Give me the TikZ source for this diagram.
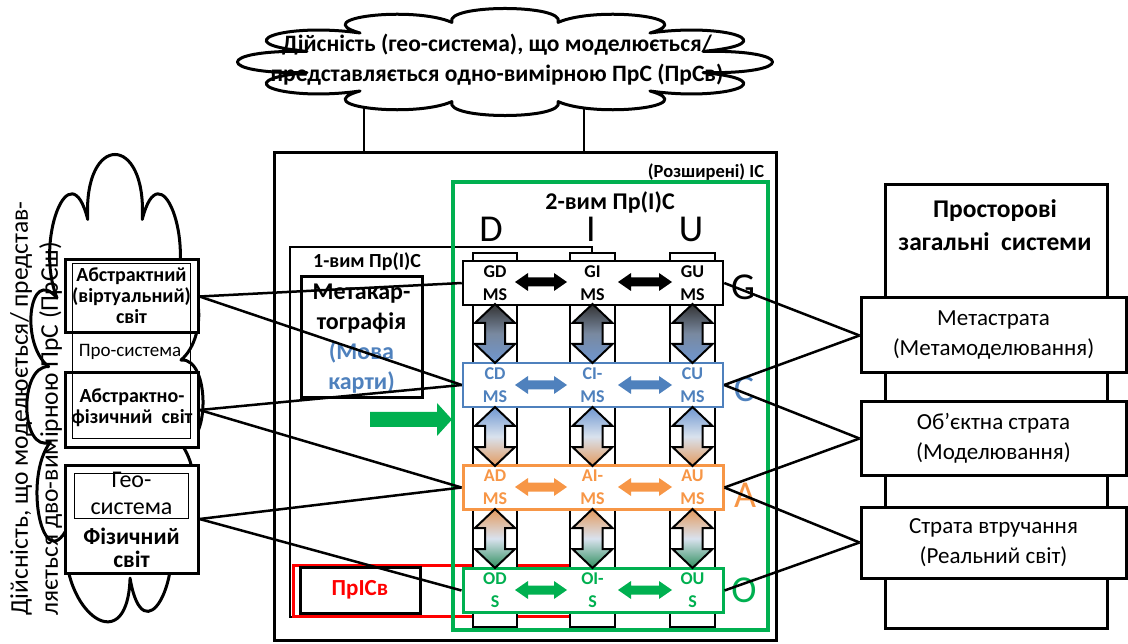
\documentclass[tikz,border=0pt]{standalone}
\usepackage{fontspec}
\setmainfont{Carlito}
\definecolor{accblue}{HTML}{4F81BD}
\definecolor{accorange}{HTML}{F79646}
\definecolor{accgreen}{HTML}{00B050}
\definecolor{accred}{HTML}{FF0000}
\definecolor{shblue}{HTML}{6F97D0}
\definecolor{shorange}{HTML}{E39A5E}
\definecolor{shgreen}{HTML}{2F8F5F}
\definecolor{shpale}{HTML}{D9E2EE}

\newcommand\fs[2]{\fontsize{#1}{#2}\selectfont}
% vertical fat double arrow: x, y top, y bottom, top/middle/bottom colours
\newcommand\vfat[6]{%
  \draw[line width=2pt, top color=#4, bottom color=#6, middle color=#5]
    (#1,#2) -- ++(20,19) -- ++(-10,0) -- (#1+10,#3-19) -- ++(10,0) -- (#1,#3)
    -- ++(-20,-19) -- ++(10,0) -- (#1-10,#2+19) -- ++(-10,0) -- cycle;}
% horizontal fat double arrow: x left, x right, y, colour
\newcommand\hfat[4]{%
  \fill[#4] (#1,#3) -- ++(13,-9) -- ++(0,4.5) -- (#2-13,#3-4.5) -- ++(0,-4.5)
    -- (#2,#3) -- ++(-13,9) -- ++(0,-4.5) -- (#1+13,#3+4.5) -- ++(0,4.5) -- cycle;}
% stretched cloud: centre x, centre y, x radius, y radius, first joint angle, joint angle pairs
\newcommand\stretchcloud[6]{%
  \begin{scope}[shift={(#1,#2)}, xscale=#3, yscale=-#4]
    \draw[cloudline] ({cos(#5)},{sin(#5)})
      foreach \a/\b in {#6}{
        .. controls ({1.45*cos(\a+0.1*(\b-\a))},{1.45*sin(\a+0.1*(\b-\a))})
           and ({1.45*cos(\b-0.1*(\b-\a))},{1.45*sin(\b-0.1*(\b-\a))})
        .. ({cos(\b)},{sin(\b)}) } -- cycle;
  \end{scope}}

\tikzset{
  cloudline/.style={draw, fill=white, line width=3pt, line join=round},
  rowbox/.style={draw, fill=white, line width=2.5pt, minimum width=260pt, minimum height=44pt, inner sep=0pt},
  lbox/.style={draw, fill=white, line width=3pt, minimum width=133pt, inner sep=0pt},
  sbox/.style={draw, fill=white, line width=3pt, minimum width=265pt, inner sep=0pt, align=center, font=\fs{23}{30}},
  conn/.style={line width=2.5pt},
  cell/.style={font=\bfseries\fs{18}{23}, align=center, inner sep=0pt},
  big/.style={font=\fs{38}{38}, inner sep=0pt, anchor=base},
  colbox/.style={draw, fill=white, line width=2.5pt},
}

\begin{document}
\begin{tikzpicture}[x=1pt, y=-1pt]
\useasboundingbox (0,0) rectangle (1128,644);

% ---- outer system frame and the cloud above it
\node[draw, line width=3pt, minimum width=502pt, minimum height=487pt, inner sep=0pt] (ic) at (525,396.5) {};
\coordinate (tl) at (364,153);
\coordinate (tr) at (584,153);
\draw[conn] (364,90) -- (tl);
\draw[conn] (584,90) -- (tr);
\stretchcloud{505}{62}{205}{41}{15}{15/45,45/75,75/105,105/135,135/165,165/195,195/225,225/255,255/285,285/315,315/345,345/375}
\node[font=\bfseries\fs{23.5}{30}, align=center, inner sep=0pt] (toptext) at (497,60)
  {Дійсність (гео-система), що моделюється/\\представляється одно-вимірною ПрС (ПрСв)};

\node[font=\bfseries\fs{18.5}{20}, inner sep=0pt] (ext) at (706,172) {(Розширені) ІС};

% ---- one-dimensional part
\draw[line width=2.5pt] (290,247) rectangle (592,617);
\node[font=\bfseries\fs{20}{22}, inner sep=0pt] (onedim) at (367,262) {1-вим Пр(І)С};
\node[draw, line width=3pt, minimum width=121pt, minimum height=121pt, inner sep=0pt] (meta) at (361.5,337.5) {};
\node[font=\bfseries\fs{24}{30}, align=center, inner sep=0pt] (metatext) at (361.5,339)
  {Метакар-\\тографія\\\textcolor{accblue}{(Мова}\\\textcolor{accblue}{карти)}};
\draw[accred, line width=3pt] (293,565) rectangle (593,616);
\node[draw, line width=3pt, minimum width=120pt, minimum height=46pt, inner sep=0pt,
      font=\bfseries\fs{23}{26}, text=accred] (pric) at (360,590) {ПрІСв};

% ---- two-dimensional part
\draw[accgreen, line width=4pt] (453,182) rectangle (768,630);
\node[font=\bfseries\fs{24}{26}, inner sep=0pt] (twodim) at (610,202) {2-вим Пр(І)С};
\fill[accgreen] (370,412) -- (437,412) -- (437,403) -- (452,419.5) -- (437,436) -- (437,427) -- (370,427) -- cycle;

\draw[colbox] (473,253) rectangle (517,627);
\draw[colbox] (570,253) rectangle (615,627);
\draw[colbox] (670,253) rectangle (715,627);

\node[big] (lD) at (491,242) {D};
\node[big] (lI) at (591,242) {I};
\node[big] (lU) at (691,242) {U};

\node[rowbox] (rowG) at (593,283) {};
\node[rowbox, draw=accblue] (rowC) at (593,385) {};
\node[rowbox, draw=accorange, line width=3pt] (rowA) at (593,487.5) {};
\node[rowbox, draw=accgreen, line width=3pt] (rowO) at (593,590.5) {};

\foreach \x in {495,592.5,692.5}{
  \vfat{\x}{304}{363}{black!80}{gray!60!shblue}{shblue}
  \vfat{\x}{407}{466}{shblue}{shpale}{shorange}
  \vfat{\x}{509}{568}{shorange}{shpale}{shgreen}
}

\foreach \y/\c in {282/black, 385/accblue, 487/accorange, 590/accgreen}{
  \hfat{515}{567}{\y}{\c}
  \hfat{618}{672}{\y}{\c}
}

\node[cell] (gd) at (495,283.5) {GD\\MS};
\node[cell] (gi) at (592.5,283.5) {GI\\MS};
\node[cell] (gu) at (692.5,283.5) {GU\\MS};
\node[cell, text=accblue] (cd) at (495,385.5) {CD\\MS};
\node[cell, text=accblue] (ci) at (592.5,385.5) {CI-\\MS};
\node[cell, text=accblue] (cu) at (692.5,385.5) {CU\\MS};
\node[cell, text=accorange] (ad) at (495,487.5) {AD\\MS};
\node[cell, text=accorange] (ai) at (592.5,487.5) {AI-\\MS};
\node[cell, text=accorange] (au) at (692.5,487.5) {AU\\MS};
\node[cell, text=accgreen] (od) at (495,590.5) {OD\\S};
\node[cell, text=accgreen] (oi) at (592.5,590.5) {OI-\\S};
\node[cell, text=accgreen] (ou) at (692.5,590.5) {OU\\S};

\node[big] (lG) at (743,300) {G};
\node[big, text=accblue] (lC) at (744,402) {C};
\node[big, text=accorange] (lA) at (745,507) {A};
\node[big, text=accgreen] (lO) at (744,602) {O};

% ---- spatial general systems
\draw[line width=3pt] (885,185) rectangle (1107,628);
\node[font=\bfseries\fs{25.5}{33}, align=center, inner sep=0pt] (psys) at (995,225)
  {Просторові\\загальні~ системи};
\node[sbox, minimum height=75pt] (smeta) at (993.5,335.5) {Метастрата\\(Метамоделювання)};
\node[sbox, minimum height=73pt] (sobj) at (993.5,438.5) {Об’єктна страта\\(Моделювання)};
\node[sbox, minimum height=71pt] (sreal) at (993.5,542.5) {Страта втручання\\(Реальний світ)};

% ---- two-dimensional reality on the left
\stretchcloud{115}{393}{67}{190}{30}{30/66,66/114,114/150,150/172,172/195,195/225,225/283,283/321,321/345,345/370,370/390}
\node[rotate=90, anchor=north west, align=left, inner sep=0pt, font=\fs{25.5}{30}] (ltext) at (10,616)
  {Дійсність, що моделюється/ представ-\\ляється дво-вимірною ПрС (ПрСш)};

\node[lbox, minimum height=73pt] (abs) at (131.5,296.5) {};
\node[lbox, minimum height=74pt] (absph) at (131.5,410) {};
\node[lbox, minimum height=108pt] (phys) at (131.5,519) {};
\draw[line width=0.8pt] (72,263) rectangle (190,438);
\draw[line width=0.8pt] (74,473) rectangle (188,518);
\node[font=\bfseries\fs{20}{21}, align=center, inner sep=0pt] (abstext) at (131.5,296)
  {Абстрактний\\(віртуальний)\\світ};
\node[font=\fs{19}{20}, inner sep=0pt] (prosys) at (130,352) {Про-система};
\node[font=\bfseries\fs{20}{21}, align=center, inner sep=0pt] (absphtext) at (132,407.5)
  {Абстрактно-\\фізичний~ світ};
\node[font=\fs{24}{27}, align=center, inner sep=0pt] (geosys) at (131.5,493) {Гео-\\система};
\node[font=\bfseries\fs{23.5}{23}, align=center, inner sep=0pt] (phystext) at (131.5,548) {Фізичний\\світ};

% ---- connectors
\draw[conn] (abs.east) -- (rowG.west);
\draw[conn] (abs.east) -- (rowC.west);
\draw[conn] (absph.east) -- (rowC.west);
\draw[conn] (absph.east) -- (rowA.west);
\draw[conn] (phys.east) -- (rowA.west);
\draw[conn] (phys.east) -- (rowO.west);

\draw[conn] (rowG.east) -- (smeta.west);
\draw[conn] (rowC.east) -- (smeta.west);
\draw[conn] (rowC.east) -- (sobj.west);
\draw[conn] (rowA.east) -- (sobj.west);
\draw[conn] (rowA.east) -- (sreal.west);
\draw[conn] (rowO.east) -- (sreal.west);
\end{tikzpicture}
\end{document}
